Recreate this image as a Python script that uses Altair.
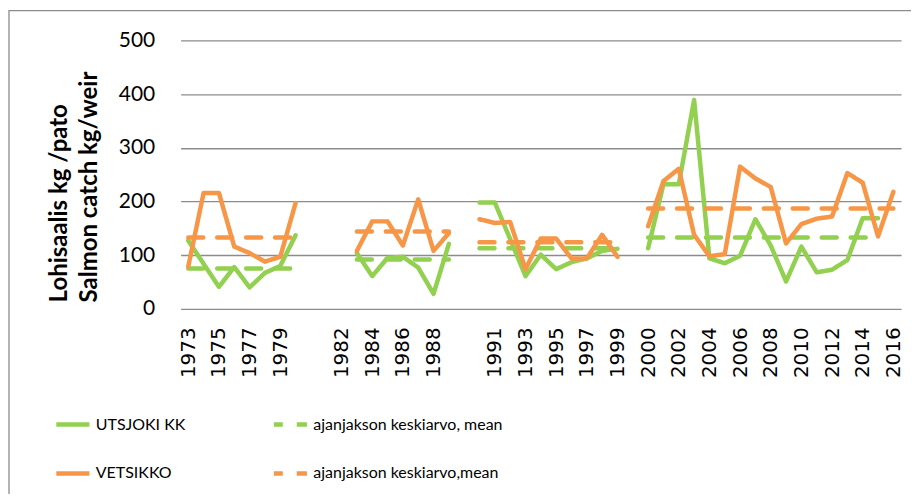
import altair as alt
import pandas as pd

# Category axis (blank entries separate the periods)
categories = (
    [str(y) for y in range(1973, 1981)] + [" "] +
    [str(y) for y in range(1981, 1990)] + ["  "] +
    [str(y) for y in range(1990, 2000)] + ["   "] +
    [str(y) for y in range(2000, 2017)]
)

utsjoki = [
    127, 84, 41, 78, 40, 67, 80, 137,
    None,
    None, None, 104, 61, 95, 97, 77, 28, 121,
    None,
    198, 198, 130, 61, 101, 74, 87, 94, 108, 112,
    None,
    113, 232, 232, 389, 94, 85, 99, 167, 118, 51, 116, 68, 73, 91, 169, 169, None,
]

vetsikko = [
    79, 216, 216, 116, 104, 88, 97, 197,
    None,
    None, None, 108, 163, 163, 118, 204, 108, 141,
    None,
    167, 160, 162, 74, 131, 131, 94, 94, 138, 97,
    None,
    154, 238, 261, 138, 98, 102, 265, 243, 227, 122, 158, 168, 172, 253, 235, 135, 218,
]

# period means (one per period)
utsjoki_means = [75, 92, 113, 133]
vetsikko_means = [133, 144, 124, 187]

series_names = ["UTSJOKI KK", "ajanjakson keskiarvo, mean", "VETSIKKO", "ajanjakson keskiarvo,mean"]
colors = ["#92D050", "#92D050", "#F79646", "#F79646"]
dashes = [[1, 0], [15, 14], [1, 0], [15, 14]]

rows = []
period = 0
for i, cat in enumerate(categories):
    if cat.strip() == "":
        period += 1
        continue
    for name, mname, vals, means in [
        (series_names[0], series_names[1], utsjoki, utsjoki_means),
        (series_names[2], series_names[3], vetsikko, vetsikko_means),
    ]:
        v = vals[i]
        if v is None:
            continue
        rows.append({"year": cat, "series": name, "value": v, "group": f"{name}-{period}", "o": series_names.index(name)})
        rows.append({"year": cat, "series": mname, "value": means[period], "group": f"{mname}-{period}", "o": series_names.index(mname)})

df = pd.DataFrame(rows).sort_values(["o"], kind="stable")

label_values = [c for i, c in enumerate(categories) if i % 2 == 0 and c.strip()]

legend = alt.Legend(title=None, orient="none", legendX=-127, legendY=366,
                    direction="horizontal", columns=2, columnPadding=79, rowPadding=21,
                    labelFont="Lato", labelFontSize=16,
                    labelColor="black", labelLimit=0, labelOffset=4,
                    symbolType="stroke", symbolSize=1100, symbolDashOffset=6,
                    symbolStrokeWidth=4.5)

lines = alt.Chart(df).mark_line(strokeWidth=4.5, strokeCap="round", strokeJoin="round").encode(
    x=alt.X("year:N", sort=categories,
            scale=alt.Scale(type="point", domain=categories, padding=0.5),
            axis=alt.Axis(values=label_values, labelAngle=270, labelFont="DejaVu Sans",
                          labelFontSize=20, labelColor="black", labelPadding=18,
                          ticks=False, tickSize=0, domain=False, grid=False,
                          labelOverlap=False, title=None)),
    y=alt.Y("value:Q",
            scale=alt.Scale(domain=[0, 500], nice=False),
            axis=alt.Axis(values=[0, 100, 200, 300, 400, 500], grid=True,
                          gridColor="#8c8c8c", gridWidth=1.3, domain=False,
                          ticks=False, tickSize=0, labelFont="Lato", labelFontSize=21,
                          labelColor="black", labelPadding=26,
                          title=["Lohisaalis kg /pato", "Salmon catch kg/weir"],
                          titleFont="Lato", titleFontSize=24, titleFontWeight="bold",
                          titleColor="black", titleAngle=270, titleAlign="left",
                          titleBaseline="top", titleX=-133, titleY=262, titleLineHeight=30)),
    color=alt.Color("series:N", sort=series_names,
                    scale=alt.Scale(domain=series_names, range=colors),
                    legend=legend),
    strokeDash=alt.StrokeDash("series:N", sort=series_names,
                              scale=alt.Scale(domain=series_names, range=dashes),
                              legend=legend),
    detail="group:N",
)

border = alt.Chart(pd.DataFrame({"k": [0]})).mark_rect(
    fillOpacity=0, stroke="#8c8c8c", strokeWidth=1.3
).encode(x=alt.value(-172), x2=alt.value(760), y=alt.value(-30), y2=alt.value(480))

chart = alt.layer(border, lines).properties(
    width=722, height=269,
    autosize=alt.AutoSizeParams(type="none"),
    padding={"left": 173, "top": 32, "right": 10, "bottom": 185},
).configure_view(stroke=None)

chart.save("out.html", embed_options={"renderer": "svg", "actions": False})
